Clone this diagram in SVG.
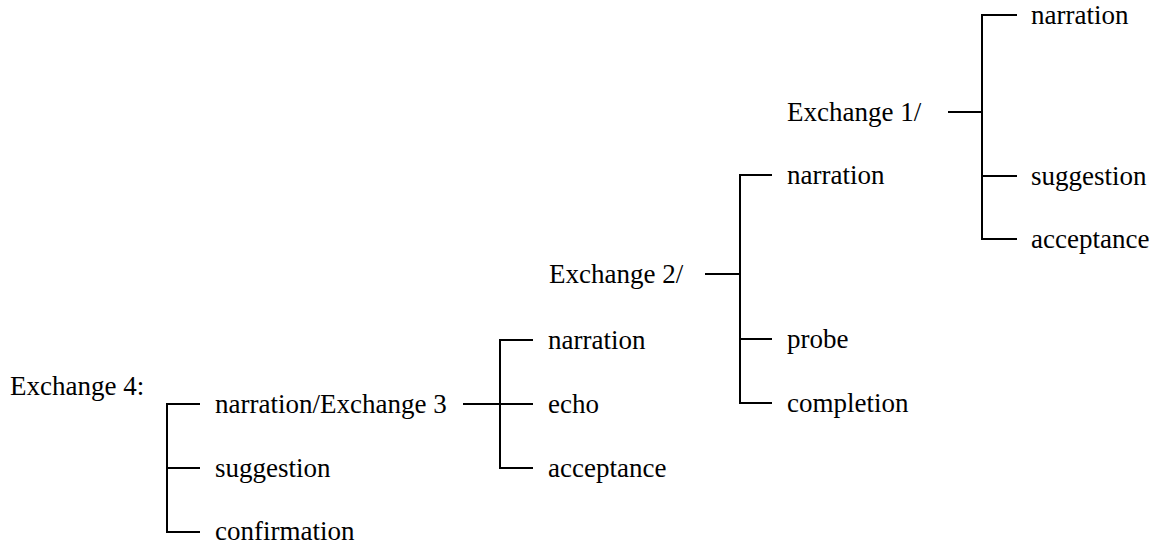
<svg xmlns="http://www.w3.org/2000/svg" width="1157" height="545" viewBox="0 0 1157 545">
<style>
text{font-family:"Liberation Serif","Times New Roman",serif;font-size:27px;fill:#000}
.c path{fill:none;stroke:#000;stroke-width:2}
</style>
<rect width="1157" height="545" fill="#fff"/>
<g class="c" id="connectors">
<path d="M200,404 H167 V532 H200 M167,468 H200"/>
<path d="M463,404 H500 M533,340 H500 V468 H533 M500,404 H533"/>
<path d="M705,274 H740 M772,175 H740 V403 H772 M740,339 H772"/>
<path d="M948,112 H982 M1017,15 H982 V239 H1017 M982,176 H1017"/>
</g>
<g id="ex4"><text x="10" y="395">Exchange 4:</text></g>
<g id="n_ex3"><text x="215" y="413">narration/Exchange 3</text></g>
<g id="sugg4"><text x="215" y="477">suggestion</text></g>
<g id="conf4"><text x="215" y="540">confirmation</text></g>
<g id="narr3"><text x="548" y="349">narration</text></g>
<g id="echo3"><text x="548" y="413">echo</text></g>
<g id="acc3"><text x="548" y="477">acceptance</text></g>
<g id="ex2"><text x="549" y="283">Exchange 2/</text></g>
<g id="narr2"><text x="787" y="184">narration</text></g>
<g id="probe2"><text x="787" y="348">probe</text></g>
<g id="comp2"><text x="787" y="412">completion</text></g>
<g id="ex1"><text x="787" y="121">Exchange 1/</text></g>
<g id="narr1"><text x="1031" y="24">narration</text></g>
<g id="sugg1"><text x="1031" y="185">suggestion</text></g>
<g id="acc1"><text x="1031" y="248">acceptance</text></g>
</svg>
